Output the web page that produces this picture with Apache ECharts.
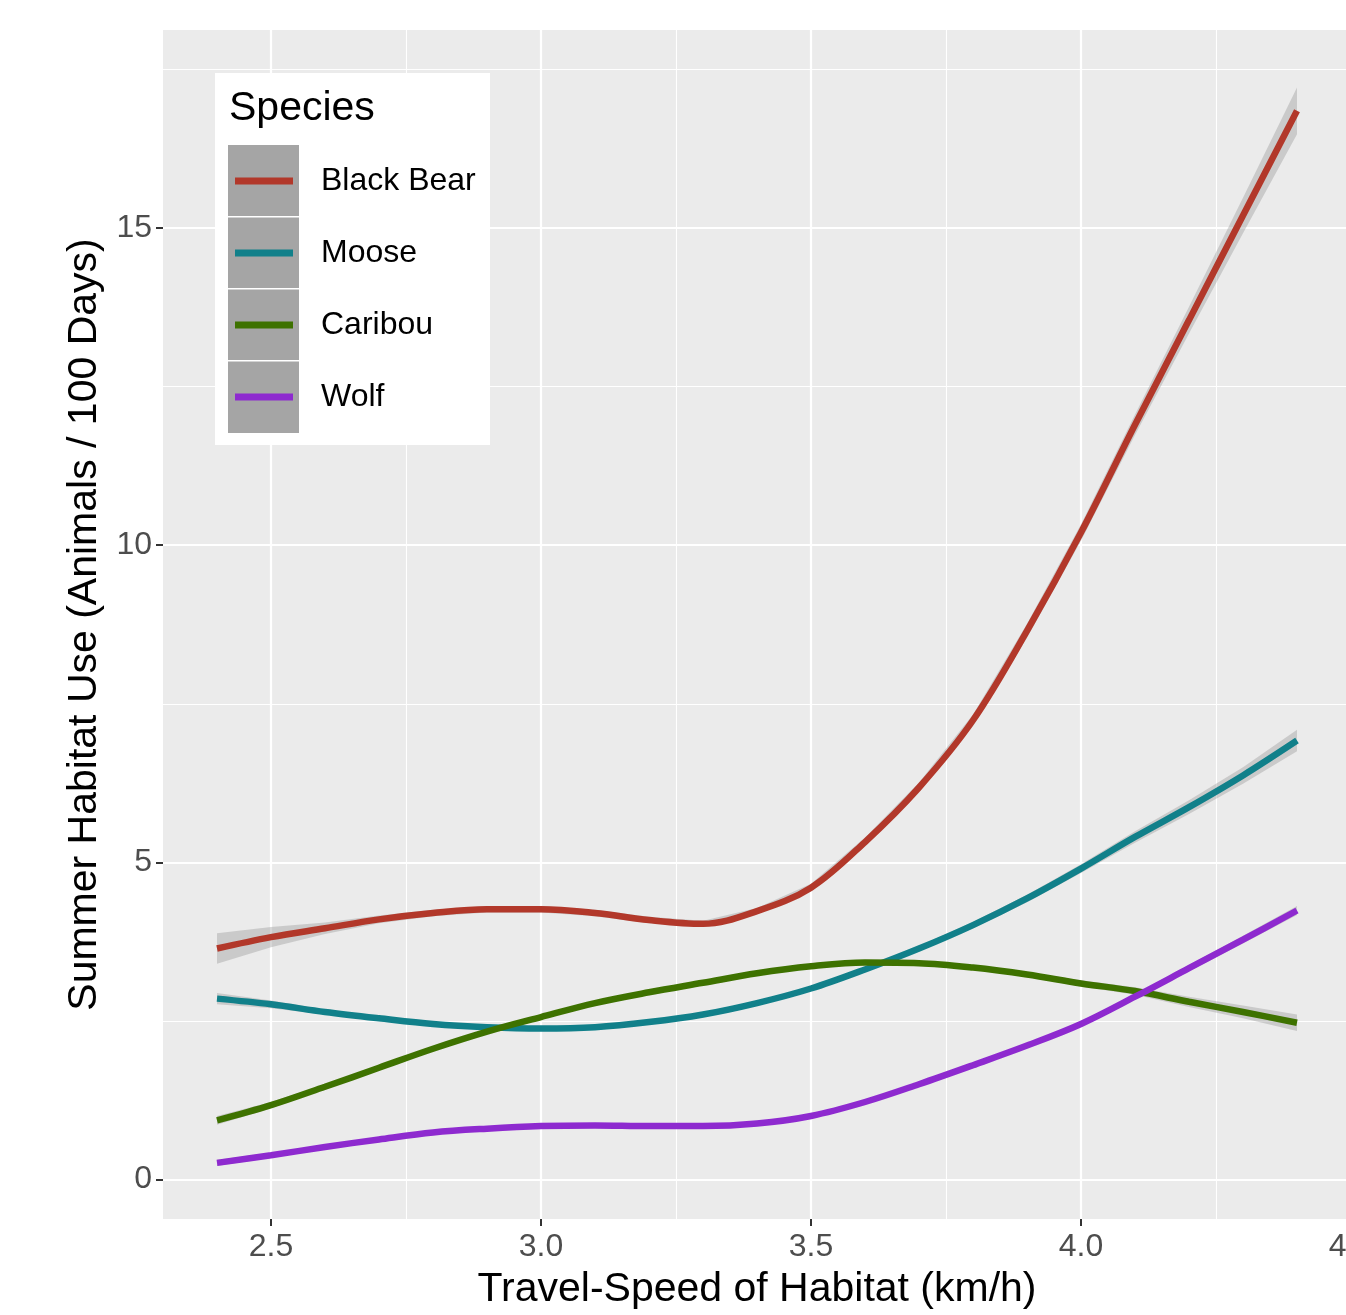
<!DOCTYPE html>
<html><head><meta charset="utf-8">
<script src="https://cdn.jsdelivr.net/npm/echarts@6/dist/echarts.min.js"></script>
<style>html,body{margin:0;padding:0;background:#fff}#c{width:1346px;height:1315px}</style>
</head><body><div id="c"></div>
<script>
// ---- data ----
const speeds = [2.4, 2.5, 2.6, 2.7, 2.8, 2.9, 3.0, 3.1, 3.2, 3.3, 3.4, 3.5, 3.6, 3.7, 3.8, 3.9, 4.0, 4.1, 4.2, 4.3, 4.4];
const speciesNames = ['Black Bear', 'Moose', 'Caribou', 'Wolf'];
const blackBear   = [3.64, 3.82, 3.96, 4.10, 4.20, 4.26, 4.26, 4.20, 4.09, 4.03, 4.23, 4.60, 5.32, 6.18, 7.24, 8.65, 10.2, 11.9, 13.55, 15.2, 16.85];
const blackBearSE = [0.24, 0.16, 0.09, 0.06, 0.05, 0.05, 0.05, 0.05, 0.05, 0.05, 0.05, 0.06, 0.07, 0.08, 0.09, 0.11, 0.13, 0.16, 0.21, 0.28, 0.37];
const moose       = [2.85, 2.76, 2.64, 2.54, 2.45, 2.40, 2.38, 2.40, 2.48, 2.60, 2.78, 3.01, 3.31, 3.64, 4.01, 4.43, 4.90, 5.40, 5.87, 6.37, 6.92];
const mooseSE     = [0.09, 0.06, 0.04, 0.03, 0.03, 0.03, 0.03, 0.03, 0.03, 0.03, 0.03, 0.03, 0.03, 0.04, 0.05, 0.06, 0.07, 0.09, 0.11, 0.13, 0.17];
const caribou     = [0.93, 1.17, 1.46, 1.76, 2.06, 2.33, 2.56, 2.78, 2.95, 3.10, 3.25, 3.36, 3.42, 3.41, 3.34, 3.23, 3.09, 2.97, 2.80, 2.64, 2.47];
const caribouSE   = [0.07, 0.05, 0.04, 0.03, 0.03, 0.03, 0.03, 0.03, 0.03, 0.03, 0.03, 0.03, 0.03, 0.03, 0.03, 0.04, 0.05, 0.06, 0.08, 0.10, 0.13];
const wolf        = [0.26, 0.38, 0.51, 0.63, 0.74, 0.80, 0.84, 0.85, 0.84, 0.84, 0.88, 1.00, 1.22, 1.50, 1.80, 2.11, 2.45, 2.88, 3.33, 3.78, 4.24];
const wolfSE      = [0.05, 0.04, 0.03, 0.03, 0.03, 0.03, 0.03, 0.03, 0.03, 0.03, 0.03, 0.03, 0.03, 0.03, 0.03, 0.03, 0.04, 0.04, 0.05, 0.06, 0.07];

const xMajor = [2.5, 3.0, 3.5, 4.0, 4.5];
const xMinor = [2.75, 3.25, 3.75, 4.25];
const xTickLabels = ['2.5', '3.0', '3.5', '4.0', '4.5'];
const yMajor = [0, 5, 10, 15];
const yMinor = [2.5, 7.5, 12.5, 17.5];
const yTickLabels = ['0', '5', '10', '15'];

// ---- styling ----
const colors = ['#B2382A', '#11808A', '#3E7200', '#8E2ACF'];
const FONT = "'Liberation Sans', Arial, sans-serif";
const X_MIN = 2.3, X_MAX = 4.5, Y_MIN = -0.625, Y_MAX = 18.125;
const values = [blackBear, moose, caribou, wolf];
const ses = [blackBearSE, mooseSE, caribouSE, wolfSE];

function lookup(ticks, labels, v) {
  for (let i = 0; i < ticks.length; i++) if (Math.abs(ticks[i] - v) < 1e-6) return labels[i];
  return '';
}

const series = [];
// gridlines drawn through the axes' scales
series.push({
  type: 'line', data: [], silent: true, z: 0, zlevel: 0,
  markLine: {
    z: 0, silent: true, symbol: ['none', 'none'], label: { show: false }, animation: false,
    emphasis: { disabled: true },
    data: [].concat(
      xMinor.map(v => ({ xAxis: v, lineStyle: { color: '#ffffff', width: 1.1, type: 'solid' } })),
      yMinor.map(v => ({ yAxis: v, lineStyle: { color: '#ffffff', width: 1.1, type: 'solid' } })),
      xMajor.map(v => ({ xAxis: v, lineStyle: { color: '#ffffff', width: 2.2, type: 'solid' } })),
      yMajor.map(v => ({ yAxis: v, lineStyle: { color: '#ffffff', width: 2.2, type: 'solid' } }))
    )
  }
});

speciesNames.forEach((name, k) => {
  const v = values[k], se = ses[k];
  const bandData = speeds.map((x, i) => [x, v[i] - se[i], v[i] + se[i]]);
  series.push({
    name: name + ' band', type: 'custom', silent: true, z: 2,
    encode: { x: 0, y: [1, 2] },
    data: bandData,
    renderItem: function (params, api) {
      if (params.dataIndex !== 0) return null;
      const upper = bandData.map(d => api.coord([d[0], d[2]]));
      const lower = bandData.map(d => api.coord([d[0], d[1]])).reverse();
      return {
        type: 'polygon',
        shape: { points: upper.concat(lower) },
        style: { fill: 'rgba(153,153,153,0.4)' }
      };
    }
  });
  series.push({
    name: name, type: 'line', smooth: 0.35,
    showSymbol: false, z: 2,
    color: colors[k],
    lineStyle: { color: colors[k], width: 6.5, cap: 'butt' },
    itemStyle: { color: colors[k] },
    data: speeds.map((x, i) => [x, v[i]])
  });
});

const chart = echarts.init(document.getElementById('c'), null, { renderer: 'canvas' });
chart.setOption({
  animation: false,
  backgroundColor: '#ffffff',
  textStyle: { fontFamily: FONT },
  grid: {
    left: 163, right: -5, top: 30, bottom: 96,
    show: true, backgroundColor: '#EBEBEB', borderWidth: 0,
    containLabel: false, outerBoundsMode: 'none'
  },
  xAxis: {
    type: 'value', min: X_MIN, max: X_MAX, position: 'bottom',
    name: 'Travel-Speed of Habitat (km/h)', nameLocation: 'middle', nameGap: 50,
    nameTextStyle: { fontSize: 41, color: '#000000', fontFamily: FONT },
    axisLine: { show: false, onZero: false },
    splitLine: { show: false },
    axisTick: { show: false },
    axisLabel: {
      customValues: xMajor, fontSize: 32, color: '#4D4D4D', margin: 12, fontFamily: FONT,
      formatter: v => lookup(xMajor, xTickLabels, v)
    }
  },
  yAxis: {
    type: 'value', min: Y_MIN, max: Y_MAX, position: 'left',
    name: 'Summer Habitat Use (Animals / 100 Days)', nameLocation: 'middle', nameGap: 57,
    nameTextStyle: { fontSize: 41, color: '#000000', fontFamily: FONT },
    axisLine: { show: false, onZero: false },
    splitLine: { show: false },
    axisTick: { show: true, inside: false, customValues: yMajor, length: 7, lineStyle: { color: '#333333', width: 2 } },
    axisLabel: {
      customValues: yMajor, fontSize: 32, color: '#4D4D4D', margin: 11, fontFamily: FONT,
      formatter: v => lookup(yMajor, yTickLabels, v)
    }
  },
  legend: {
    data: speciesNames, orient: 'vertical', left: 235, top: 145, padding: 0,
    itemGap: 0, itemWidth: 58, itemHeight: 7, icon: 'rect', selectedMode: false,
    z: 10,
    textStyle: { fontSize: 32, lineHeight: 72, color: '#000000', fontFamily: FONT, padding: [0, 0, 0, 23] }
  },
  graphic: [
    { id: 'lgbox', type: 'rect', z: 8, shape: { x: 215, y: 73, width: 275, height: 372 }, style: { fill: '#ffffff' } },
    { id: 'lgtitle', type: 'text', z: 9, style: { x: 229, y: 109, text: 'Species', font: '41px ' + FONT, fill: '#000000', textVerticalAlign: 'middle', verticalAlign: 'middle' } },
    { id: 'key0', type: 'rect', z: 9, shape: { x: 228, y: 145, width: 71, height: 71 }, style: { fill: '#A5A5A5' } },
    { id: 'key1', type: 'rect', z: 9, shape: { x: 228, y: 217.5, width: 71, height: 70.5 }, style: { fill: '#A5A5A5' } },
    { id: 'key2', type: 'rect', z: 9, shape: { x: 228, y: 289.5, width: 71, height: 70.5 }, style: { fill: '#A5A5A5' } },
    { id: 'key3', type: 'rect', z: 9, shape: { x: 228, y: 361.5, width: 71, height: 71.5 }, style: { fill: '#A5A5A5' } }
  ],
  series: series
});

// x-axis tick marks below the panel, placed with the library's own scale
const tickGraphics = xMajor.map((v, i) => {
  const p = chart.convertToPixel({ gridIndex: 0 }, [v, Y_MIN]);
  return {
    id: 'xtick' + i, type: 'line', z: 20,
    shape: { x1: p[0], y1: p[1], x2: p[0], y2: p[1] + 7 },
    style: { stroke: '#333333', lineWidth: 2 }
  };
});
chart.setOption({ graphic: tickGraphics });
</script>
</body></html>
